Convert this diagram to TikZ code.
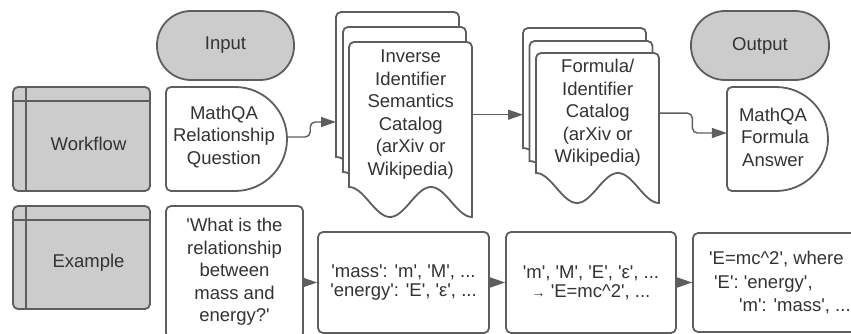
\documentclass[tikz,border=0pt]{standalone}
\usepackage{fontspec}
\setmainfont{Liberation Sans}[Ligatures=TeXOff]
\usetikzlibrary{arrows.meta,calc}
\definecolor{stk}{HTML}{5E5E5E}
\definecolor{gfill}{HTML}{CCCCCC}
\definecolor{txt}{HTML}{333333}
\tikzset{
  shp/.style={draw=stk, line width=1.8pt},
  lbl/.style={text=txt, font=\fontsize{18.5}{22.5}\selectfont, align=center, inner sep=0pt},
  lbls/.style={lbl, font=\fontsize{18.5}{19}\selectfont},
  conn/.style={draw=stk, line width=1.4pt, -{Triangle[length=15pt,width=10pt]}, rounded corners=5pt},
  term/.style={shp, lbl, fill=gfill, rounded corners=34pt, minimum width=137pt, minimum height=69pt},
  ebox/.style={shp, lbl, fill=white, rounded corners=5pt},
  lanebox/.style={shp, fill=gfill, rounded corners=5pt, minimum width=137pt, inner sep=0pt},
  sheet/.style={lbl, anchor=north west, minimum width=123pt}
}
% #1 x0, #2 ytop, #3 left height, #4 name, #5 text
\newcommand\docsheet[5]{%
  \draw[shp, fill=white] (#1,#2+#3) -- (#1,#2+5)
    .. controls (#1,#2+2.2) and (#1+2.2,#2) .. (#1+5,#2) -- (#1+118,#2)
    .. controls (#1+120.8,#2) and (#1+123,#2+2.2) .. (#1+123,#2+5)
    -- (#1+123,#2+#3+30)
    -- plot[domain=1:0, samples=50] ({#1+123*\x},{#2+#3+15*(1-cos(540*\x))}) -- cycle;
  \node[sheet, minimum height=#3pt] (#4) at (#1,#2) {#5};
}
\begin{document}
\begin{tikzpicture}[x=1pt,y=-1pt]
\useasboundingbox (0,0) rectangle (851,334);
\clip (0,0) rectangle (851,334);

% terminals
\node[term] (inp) at (225.5,45.5) {Input};
\node[term, minimum width=138pt] (out) at (760,45.5) {Output};

% swimlanes
\node[lanebox, minimum height=104pt] (lane1) at (81.5,139) {};
\draw[shp] ($(lane1.north west)+(14,0)$) -- ($(lane1.south west)+(14,0)$);
\draw[shp] ($(lane1.north west)+(0,15)$) -- ($(lane1.north east)+(0,15)$);
\node[lbl] (w1) at (88.5,144) {Workflow};

\node[lanebox, minimum height=103pt] (lane2) at (81.5,257.5) {};
\draw[shp] ($(lane2.north west)+(14,0)$) -- ($(lane2.south west)+(14,0)$);
\draw[shp] ($(lane2.north west)+(0,15)$) -- ($(lane2.north east)+(0,15)$);
\node[lbl] (w2) at (88.5,263) {Example};

% delay shapes
\draw[shp, fill=white] (235,87) -- (171,87) .. controls (168.2,87) and (166,89.2) .. (166,92)
  -- (166,186) .. controls (166,188.8) and (168.2,191) .. (171,191) -- (235,191)
  .. controls (263.7,191) and (287,167.7) .. (287,139)
  .. controls (287,110.3) and (263.7,87) .. (235,87) -- cycle;
\node[lbl, minimum width=126pt] (q) at (224,137) {MathQA\\Relationship\\Question};

\draw[shp, fill=white] (776,87) -- (732,87) .. controls (729.2,87) and (727,89.2) .. (727,92)
  -- (727,186) .. controls (727,188.8) and (729.2,191) .. (732,191) -- (776,191)
  .. controls (804.7,191) and (828,167.7) .. (828,139)
  .. controls (828,110.3) and (804.7,87) .. (776,87) -- cycle;
\node[lbl, minimum width=92pt] (ans) at (773,137) {MathQA\\\hspace*{4pt}Formula\\Answer};

% document stacks
\docsheet{336}{12}{145}{d1a}{}
\docsheet{343}{27}{145}{d1b}{}
\docsheet{349}{42}{145}{d1c}{Inverse\\Identifier\\Semantics\\Catalog\\(arXiv or\\Wikipedia)}

\docsheet{523}{28}{120}{d2a}{}
\docsheet{529.5}{41}{120}{d2b}{}
\docsheet{536}{53}{120}{d2c}{Formula/\\Identifier\\Catalog\\(arXiv or\\Wikipedia)}

% top connectors
\draw[conn] (q.east) -- ++(23,0) |- ($(d1a.north west)+(0,110)$);
\draw[conn] (d1c.east) -- (d1c.east -| d2a.west);
\draw[conn] (d2c.east) -- ++(33,0) |- ($(ans.west)+(0,-4)$);

% example row
\node[ebox, minimum width=137pt, minimum height=132pt] (q2) at (234.5,272)
  {'What is the\\relationship\\between\\mass and\\energy?'};
\node[ebox, lbls, minimum width=171pt, minimum height=101pt] (b2) at (403.5,282.5)
  {'mass': 'm', 'M', ...\\'energy': 'E', 'ε', ...};
\node[ebox, lbls, minimum width=170pt, minimum height=101pt] (b3) at (591,282.5)
  {'m', 'M', 'E', 'ε', ...\\{\fontsize{14}{14}\selectfont →} 'E=mc\textasciicircum 2', ...};
\node[ebox, minimum width=187pt, minimum height=99pt] (b4) at (786.5,282.5) {};
\node[lbl, align=left, anchor=west, font=\fontsize{18.5}{23.5}\selectfont] (b4t) at (709,282.5)
  {'E=mc\textasciicircum 2', where\\\hspace*{5pt}'E': 'energy',\\\hspace*{30pt}'m': 'mass', ...};

\draw[conn] (q2.east |- b2.west) -- (b2.west);
\draw[conn] (b2.east) -- (b3.west);
\draw[conn] (b3.east) -- (b4.west);
\end{tikzpicture}
\end{document}
